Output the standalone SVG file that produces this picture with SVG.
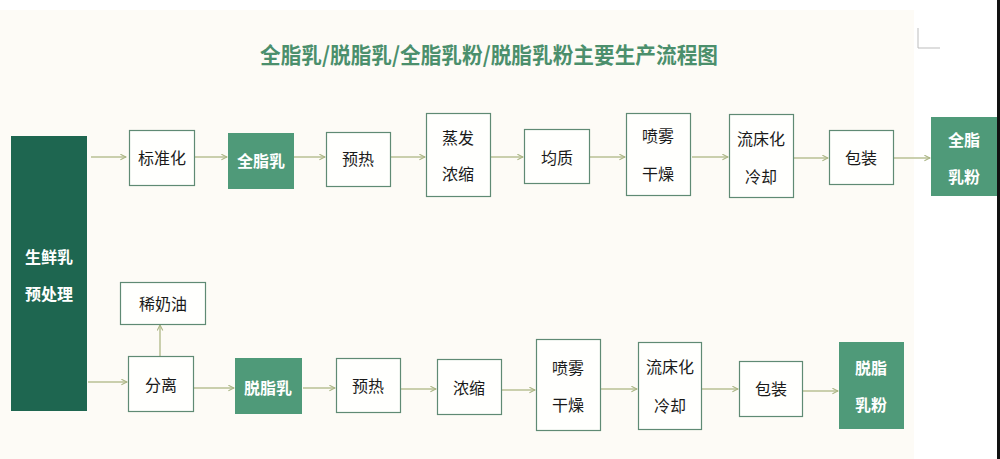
<svg xmlns="http://www.w3.org/2000/svg" width="1000" height="459" viewBox="0 0 1000 459">
<defs>
<style>
.box{fill:#fffffd;stroke:#5f8a74;stroke-width:1.2}
.fill{fill:#4f9a79;stroke:#4f9a79}
.dark{fill:#1e6650}
.t{font-family:"Noto Sans CJK SC","Noto Sans CJK JP",sans-serif;font-size:16px;fill:#1a1a1a;text-anchor:middle;dominant-baseline:central}
.w{font-family:"Noto Sans CJK SC","Noto Sans CJK JP",sans-serif;font-size:16px;font-weight:bold;fill:#ffffff;text-anchor:middle;dominant-baseline:central}
.c{stroke:#b9c194;stroke-width:1.5;fill:none;marker-end:url(#ah)}
</style>
<marker id="ah" viewBox="0 0 10 10" refX="9" refY="5" markerWidth="7" markerHeight="7" markerUnits="userSpaceOnUse" orient="auto">
<path d="M1,1 L9,5 L1,9" fill="none" stroke="#a9b483" stroke-width="1.5"/>
</marker>
</defs>
<rect x="0" y="0" width="1000" height="459" fill="#ffffff"/>
<rect x="0" y="10" width="914" height="449" fill="#fdfbf6"/>
<rect x="997" y="0" width="3" height="459" fill="#111111"/>
<path d="M918,28 V48 H940" fill="none" stroke="#bdbdbd" stroke-width="1"/>
<text x="489" y="53" font-family="'Noto Sans CJK SC','Noto Sans CJK JP',sans-serif" font-size="22" font-weight="bold" fill="#4b8f6c" text-anchor="middle" dominant-baseline="central" textLength="458" lengthAdjust="spacingAndGlyphs">全脂乳/脱脂乳/全脂乳粉/脱脂乳粉主要生产流程图</text>

<g id="connectors">
<line class="c" x1="91" y1="157" x2="126" y2="157"/>
<line class="c" x1="194" y1="157" x2="227" y2="157"/>
<line class="c" x1="294" y1="157" x2="325" y2="157"/>
<line class="c" x1="391" y1="157" x2="425" y2="157"/>
<line class="c" x1="491" y1="157" x2="523" y2="157"/>
<line class="c" x1="590" y1="157" x2="625" y2="157"/>
<line class="c" x1="692" y1="157" x2="728" y2="157"/>
<line class="c" x1="794" y1="158" x2="828" y2="158"/>
<line class="c" x1="894" y1="158" x2="930" y2="158"/>
<line class="c" x1="88" y1="382" x2="127" y2="382"/>
<line class="c" x1="160" y1="356" x2="160" y2="325"/>
<line class="c" x1="194" y1="388" x2="234" y2="388"/>
<line class="c" x1="303" y1="388" x2="335" y2="388"/>
<line class="c" x1="401" y1="389" x2="436" y2="389"/>
<line class="c" x1="502" y1="390" x2="535" y2="390"/>
<line class="c" x1="601" y1="389" x2="637" y2="389"/>
<line class="c" x1="702" y1="389" x2="738" y2="389"/>
<line class="c" x1="803" y1="391" x2="838" y2="391"/>
</g>

<g id="n-raw"><rect class="dark" x="11" y="136" width="76" height="275"/><text class="w" x="49" y="256">生鲜乳</text><text class="w" x="49" y="293">预处理</text></g>

<g id="n-std"><rect class="box" x="129.5" y="130.5" width="65" height="55"/><text class="t" x="162" y="157">标准化</text></g>
<g id="n-whole"><rect class="fill" x="228.5" y="133.5" width="65" height="55"/><text class="w" x="261" y="160">全脂乳</text></g>
<g id="n-pre1"><rect class="box" x="326.5" y="132.5" width="64" height="54"/><text class="t" x="358" y="158">预热</text></g>
<g id="n-evap"><rect class="box" x="426.5" y="113.5" width="64" height="83"/><text class="t" x="458" y="137">蒸发</text><text class="t" x="458" y="173">浓缩</text></g>
<g id="n-homo"><rect class="box" x="524.5" y="129.5" width="65" height="54"/><text class="t" x="557" y="157">均质</text></g>
<g id="n-spray1"><rect class="box" x="626.5" y="113.5" width="64" height="82"/><text class="t" x="658" y="135">喷雾</text><text class="t" x="658" y="173">干燥</text></g>
<g id="n-cool1"><rect class="box" x="729.5" y="114.5" width="64" height="83"/><text class="t" x="761" y="138">流床化</text><text class="t" x="761" y="176">冷却</text></g>
<g id="n-pack1"><rect class="box" x="829.5" y="130.5" width="64" height="54"/><text class="t" x="861" y="157">包装</text></g>
<g id="n-wmp"><rect class="fill" x="931.5" y="117.5" width="65" height="78"/><text class="w" x="964" y="139">全脂</text><text class="w" x="964" y="176">乳粉</text></g>

<g id="n-cream"><rect class="box" x="120.5" y="282.5" width="85" height="42"/><text class="t" x="163" y="303">稀奶油</text></g>
<g id="n-sep"><rect class="box" x="128.5" y="356.5" width="65" height="55"/><text class="t" x="161" y="384">分离</text></g>
<g id="n-skim"><rect class="fill" x="235.5" y="358.5" width="66" height="55"/><text class="w" x="268" y="387">脱脂乳</text></g>
<g id="n-pre2"><rect class="box" x="336.5" y="358.5" width="64" height="54"/><text class="t" x="368" y="385">预热</text></g>
<g id="n-conc"><rect class="box" x="437.5" y="359.5" width="64" height="55"/><text class="t" x="469" y="387">浓缩</text></g>
<g id="n-spray2"><rect class="box" x="536.5" y="339.5" width="64" height="91"/><text class="t" x="568" y="367">喷雾</text><text class="t" x="568" y="404">干燥</text></g>
<g id="n-cool2"><rect class="box" x="638.5" y="342.5" width="63" height="87"/><text class="t" x="670" y="366">流床化</text><text class="t" x="670" y="405">冷却</text></g>
<g id="n-pack2"><rect class="box" x="739.5" y="361.5" width="63" height="55"/><text class="t" x="771" y="388">包装</text></g>
<g id="n-smp"><rect class="fill" x="839.5" y="342.5" width="64" height="86"/><text class="w" x="871" y="367">脱脂</text><text class="w" x="871" y="404">乳粉</text></g>
</svg>
